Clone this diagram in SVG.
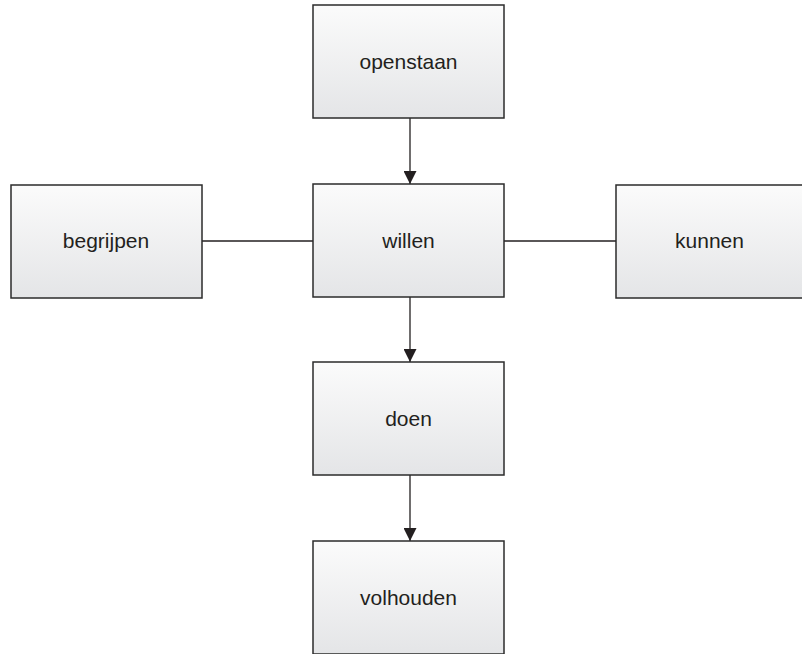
<svg xmlns="http://www.w3.org/2000/svg" width="802" height="654" viewBox="0 0 802 654">
<defs>
<linearGradient id="g" x1="0" y1="0" x2="0" y2="1">
<stop offset="0" stop-color="#fbfbfb"/>
<stop offset="1" stop-color="#e4e5e7"/>
</linearGradient>
<marker id="arr" markerWidth="14" markerHeight="13" refX="13" refY="6.5" orient="auto" markerUnits="userSpaceOnUse">
<path d="M0,0 L13,6.5 L0,13 Z" fill="#231f20"/>
</marker>
</defs>
<style>
.box{fill:url(#g);stroke:#2b2b2b;stroke-width:1.5}
.lbl{font-family:"Liberation Sans",Arial,sans-serif;font-size:21px;fill:#231f20;text-anchor:middle}
.con{stroke:#231f20;stroke-width:1.3;fill:none}
</style>
<rect width="802" height="654" fill="#ffffff"/>
<g id="connectors">
<line class="con" x1="410" y1="118" x2="410" y2="184" marker-end="url(#arr)"/>
<line class="con" x1="410" y1="297" x2="410" y2="362" marker-end="url(#arr)"/>
<line class="con" x1="410" y1="475" x2="410" y2="541" marker-end="url(#arr)"/>
<line class="con" x1="202" y1="241" x2="313" y2="241"/>
<line class="con" x1="504" y1="241" x2="616" y2="241"/>
</g>
<g id="openstaan">
<rect class="box" x="313" y="5" width="191" height="113"/>
<text class="lbl" x="408.5" y="69">openstaan</text>
</g>
<g id="willen">
<rect class="box" x="313" y="184" width="191" height="113"/>
<text class="lbl" x="408.5" y="248">willen</text>
</g>
<g id="begrijpen">
<rect class="box" x="11" y="185" width="191" height="113"/>
<text class="lbl" x="106" y="248">begrijpen</text>
</g>
<g id="kunnen">
<rect class="box" x="616" y="185" width="191" height="113"/>
<text class="lbl" x="709.5" y="248">kunnen</text>
</g>
<g id="doen">
<rect class="box" x="313" y="362" width="191" height="113"/>
<text class="lbl" x="408.5" y="426">doen</text>
</g>
<g id="volhouden">
<rect class="box" x="313" y="541" width="191" height="113"/>
<text class="lbl" x="408.5" y="605">volhouden</text>
</g>
</svg>
